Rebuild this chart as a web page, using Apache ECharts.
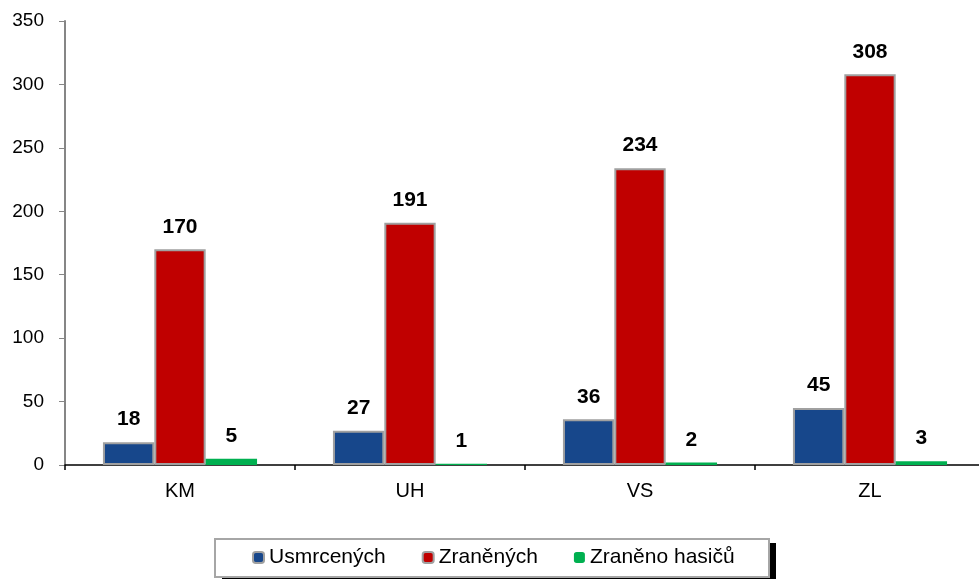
<!DOCTYPE html>
<html lang="cs">
<head>
    <meta charset="utf-8">
    <title>Usmrcení a zranění</title>
    <script src="https://cdn.jsdelivr.net/npm/echarts@6/dist/echarts.min.js"></script>
    <style>
        html, body { margin: 0; padding: 0; background: #fff; }
        #main { width: 979px; height: 579px; }
    </style>
</head>
<body>
    <div id="main"></div>
    <script type="text/javascript">
        // data
        var categories = ['KM', 'UH', 'VS', 'ZL'];
        var usmrcenych = [18, 27, 36, 45];
        var zranenych = [170, 191, 234, 308];
        var zranenoHasicu = [5, 1, 2, 3];

        var FONT = 'Arial, "Liberation Sans", sans-serif';
        var myChart = echarts.init(document.getElementById('main'));

        var labelStyle = {
            show: true,
            position: 'top',
            distance: 12,
            color: '#000',
            fontFamily: FONT,
            fontWeight: 'bold',
            fontSize: 21
        };

        myChart.setOption({
            animation: false,
            textStyle: { fontFamily: FONT },
            grid: {
                left: 65,
                top: 21,
                width: 920,
                bottom: 114,
                outerBoundsMode: 'none'
            },
            // legend frame with the black drop shadow on the right
            graphic: [{
                type: 'rect',
                z: 0,
                shape: { x: 222, y: 543, width: 554, height: 40 },
                style: { fill: '#000' }
            }, {
                type: 'rect',
                z: 1,
                shape: { x: 215, y: 539, width: 554, height: 38 },
                style: { fill: '#fff', stroke: '#a6a6a6', lineWidth: 2 }
            }],
            legend: {
                z: 10,
                left: 252,
                top: 547,
                padding: 0,
                itemWidth: 11,
                itemHeight: 11,
                itemGap: 36,
                textStyle: { fontSize: 21, color: '#000', fontFamily: FONT },
                data: ['Usmrcených', 'Zraněných', 'Zraněno hasičů']
            },
            xAxis: {
                type: 'category',
                data: categories,
                axisLine: { lineStyle: { color: '#000', width: 1.5 } },
                axisTick: { show: true, length: 5, inside: false, lineStyle: { color: '#000', width: 1.5 } },
                axisLabel: { color: '#000', fontSize: 20, margin: 16 }
            },
            yAxis: {
                type: 'value',
                min: 0,
                max: 350,
                interval: 50,
                splitLine: { show: false },
                axisLine: { show: true, lineStyle: { color: '#868686', width: 2 } },
                axisTick: { show: true, length: 6, lineStyle: { color: '#868686', width: 1 } },
                axisLabel: { color: '#000', fontSize: 19, margin: 21 }
            },
            series: [{
                name: 'Usmrcených',
                type: 'bar',
                data: usmrcenych,
                barGap: '0%',
                barCategoryGap: '33%',
                itemStyle: { color: '#17478b', borderColor: '#a0a0a0', borderWidth: 2 },
                label: labelStyle
            }, {
                name: 'Zraněných',
                type: 'bar',
                data: zranenych,
                itemStyle: { color: '#c00000', borderColor: '#a0a0a0', borderWidth: 2 },
                label: labelStyle
            }, {
                name: 'Zraněno hasičů',
                type: 'bar',
                data: zranenoHasicu,
                itemStyle: { color: '#00b050' },
                label: labelStyle
            }]
        });
    </script>
</body>
</html>
